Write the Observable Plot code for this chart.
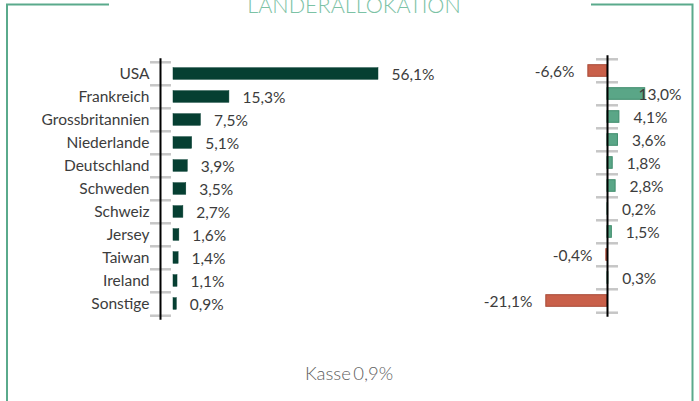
<!DOCTYPE html>
<html>
<head>
<meta charset="utf-8">
<script src="https://cdn.jsdelivr.net/npm/d3@7"></script>
<script src="https://cdn.jsdelivr.net/npm/@observablehq/plot@0.6"></script>
<style>
  html, body { margin: 0; padding: 0; background: #fff; }
  #wrap { position: relative; width: 699px; height: 401px; overflow: hidden; font-family: Lato, sans-serif; }
  #wrap > svg, #wrap > figure { position: absolute; left: 0; top: 0; margin: 0; }
</style>
</head>
<body>
<div id="wrap"></div>
<script>
// ---- data ----
const title = "LÄNDERALLOKATION";
const countries = ["USA", "Frankreich", "Grossbritannien", "Niederlande", "Deutschland", "Schweden", "Schweiz", "Jersey", "Taiwan", "Ireland", "Sonstige"];
const weights = [56.1, 15.3, 7.5, 5.1, 3.9, 3.5, 2.7, 1.6, 1.4, 1.1, 0.9];
const relative = [-6.6, 13.0, 4.1, 3.6, 1.8, 2.8, 0.2, 1.5, -0.4, 0.3, -21.1];
const cashLabel = "Kasse";
const cashValue = 0.9;

const fmt = v => v.toFixed(1).replace(".", ",") + "%";
const W = 699, H = 401;
const textColor = "#3c3c3c";
const fs = 15.5;
const leftData = countries.map((c, i) => ({country: c, value: weights[i]}));
const rightData = countries.map((c, i) => ({country: c, value: relative[i]}));
const lastCountry = countries[countries.length - 1];

const wrap = document.getElementById("wrap");

// ---- left chart ----
const leftStep = 23.4;
const leftTop = 60.3;
const leftBottom = leftTop + leftStep * countries.length;
const left = Plot.plot({
  width: W, height: H,
  marginLeft: 173, marginRight: W - (173 + 60 * 3.654),
  marginTop: leftTop, marginBottom: H - leftBottom,
  style: {fontFamily: "Lato, sans-serif", fontSize: fs + "px", color: textColor, background: "transparent", overflow: "visible"},
  x: {domain: [0, 60], axis: null},
  y: {domain: countries, padding: 0, label: null},
  marks: [
    Plot.axisY({tickSize: 0, tickPadding: 24, label: null, fill: textColor, fontSize: fs}),
    Plot.ruleY(countries, {y: d => d, x1: 0, x2: 0, dy: -leftStep / 2, insetLeft: -23, insetRight: 2, stroke: "#c6c6c6", strokeWidth: 2.5}),
    Plot.ruleY([lastCountry], {y: d => d, x1: 0, x2: 0, dy: leftStep / 2, insetLeft: -23, insetRight: 2, stroke: "#c6c6c6", strokeWidth: 2.5}),
    Plot.ruleX([0], {dx: -13, stroke: "#000", strokeWidth: 2, insetTop: -2, insetBottom: -2}),
    Plot.barX(leftData, {x1: 0, x2: "value", y: "country", insetTop: 5.7, insetBottom: 5.7, fill: "#063f32", stroke: "#063f32", strokeWidth: 0.5}),
    Plot.text(leftData, {x: "value", y: "country", text: d => fmt(d.value), dx: 13, dy: 1, textAnchor: "start", fill: textColor, fontSize: fs})
  ]
});
wrap.appendChild(left);

// ---- right chart ----
const pxPerPct = 2.9;
const zeroX = 607;
const rDomain = [-22, 14];
const rightStep = 23.4;
const rightTop = 57.3;
const rightBottom = rightTop + rightStep * countries.length;
const labelLimit = 5.9;
const right = Plot.plot({
  width: W, height: H,
  marginLeft: zeroX + rDomain[0] * pxPerPct,
  marginRight: W - (zeroX + rDomain[1] * pxPerPct),
  marginTop: rightTop, marginBottom: H - rightBottom,
  style: {fontFamily: "Lato, sans-serif", fontSize: fs + "px", color: textColor, background: "transparent", overflow: "visible"},
  x: {domain: rDomain, axis: null},
  y: {domain: countries, padding: 0, axis: null},
  marks: [
    Plot.ruleY(countries, {y: d => d, x1: 0, x2: 0, dy: -rightStep / 2, insetLeft: -11, insetRight: -11, stroke: "#c6c6c6", strokeWidth: 2.5}),
    Plot.ruleY([lastCountry], {y: d => d, x1: 0, x2: 0, dy: rightStep / 2, insetLeft: -11, insetRight: -11, stroke: "#c6c6c6", strokeWidth: 2.5}),
    Plot.barX(rightData, {x1: 0, x2: "value", y: "country", insetTop: 5.7, insetBottom: 5.7,
      fill: d => d.value < 0 ? "#c9604a" : "#5aa687",
      stroke: d => d.value < 0 ? "#a84a37" : "#3f8c6c", strokeWidth: 1}),
    Plot.ruleX([0], {stroke: "#000", strokeWidth: 2, insetTop: -2, insetBottom: -2}),
    Plot.text(rightData.filter(d => d.value >= 0), {x: d => Math.min(d.value, labelLimit), y: "country", text: d => fmt(d.value), dx: 14, dy: 1, textAnchor: "start", fill: textColor, fontSize: fs}),
    Plot.text(rightData.filter(d => d.value < 0), {x: "value", y: "country", text: d => fmt(d.value), dx: -14, dy: 1, textAnchor: "end", fill: textColor, fontSize: fs})
  ]
});
wrap.appendChild(right);

// ---- frame, title and cash note ----
const deco = d3.create("svg").attr("width", W).attr("height", H).style("overflow", "hidden");
const frame = "#5aaa8c";
deco.append("path").attr("d", "M7,401 V4.5 H109").attr("fill", "none").attr("stroke", frame).attr("stroke-width", 2);
deco.append("path").attr("d", "M591,4.5 H692.5 V401").attr("fill", "none").attr("stroke", frame).attr("stroke-width", 2);
deco.append("text").text(title)
  .attr("x", 354).attr("y", 13).attr("text-anchor", "middle")
  .attr("font-family", "Lato, sans-serif").attr("font-weight", 300).attr("font-size", 21.6)
  .attr("fill", "#7cc2a5");
deco.append("text").text(cashLabel + "\u2009" + fmt(cashValue))
  .attr("x", 349).attr("y", 380).attr("text-anchor", "middle")
  .attr("font-family", "Lato, sans-serif").attr("font-weight", 300).attr("font-size", 18.5)
  .attr("fill", "#606060");
wrap.appendChild(deco.node());
</script>
</body>
</html>
